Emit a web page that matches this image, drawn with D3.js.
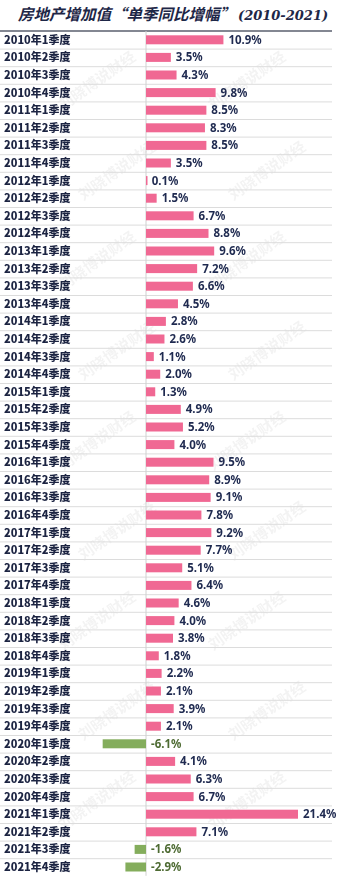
<!DOCTYPE html>
<html><head><meta charset="utf-8">
<script src="https://cdn.jsdelivr.net/npm/d3@7"></script>
<style>html,body{margin:0;padding:0;background:#fff;}svg{display:block;}</style>
</head><body>
<script>
const titleMain = "房地产增加值“单季同比增幅”";
const titleYears = "(2010-2021)";
const years = ["2010","2011","2012","2013","2014","2015","2016","2017","2018","2019","2020","2021"];
const quarters = ["1","2","3","4"];
const categories = years.flatMap(y => quarters.map(q => `${y}年${q}季度`));
const values = [
  10.9, 3.5, 4.3, 9.8,
  8.5, 8.3, 8.5, 3.5,
  0.1, 1.5, 6.7, 8.8,
  9.6, 7.2, 6.6, 4.5,
  2.8, 2.6, 1.1, 2.0,
  1.3, 4.9, 5.2, 4.0,
  9.5, 8.9, 9.1, 7.8,
  9.2, 7.7, 5.1, 6.4,
  4.6, 4.0, 3.8, 1.8,
  2.2, 2.1, 3.9, 2.1,
  -6.1, 4.1, 6.3, 6.7,
  21.4, 7.1, -1.6, -2.9
];
const data = categories.map((c, i) => ({c, v: values[i]}));

(function () {
const W = 345, H = 880;
const svg = d3.select("body").append("svg").attr("width", W).attr("height", H);

const tableTop = 31, rowH = 17.6, tableRight = 332;
const y = d3.scaleBand().domain(categories).range([tableTop, tableTop + rowH * categories.length]);
const x = d3.scaleLinear().domain([0, 21.4]).range([146, 298]);

// title
const tMain = svg.append("text").attr("x", 18).attr("y", 20)
  .attr("font-family", "'Noto Sans CJK SC',sans-serif")
  .attr("font-size", 15.5).attr("font-weight", "bold").attr("font-style", "italic")
  .attr("fill", "#1e2747")
  .text(titleMain);
const mainEnd = 18 + tMain.node().getComputedTextLength();
svg.append("text").attr("x", mainEnd + 3).attr("y", 20)
  .attr("font-family", "'DejaVu Serif',serif")
  .attr("font-size", 13).attr("font-weight", "bold").attr("font-style", "italic")
  .attr("fill", "#1e2747")
  .text(titleYears);

// watermark
const wm = svg.append("g").attr("fill", "#000").attr("opacity", 0.05)
  .attr("font-family", "'Noto Sans CJK SC',sans-serif").attr("font-size", 15).attr("font-weight", "bold");
for (let r = 0; r < 9; r++) {
  for (let k = 0; k < 2; k++) {
    const cx = 110 + k * 150 + (r % 2) * 20 - 10, cy = 85 + r * 90;
    if (cx + 40 > W) continue;
    wm.append("text").attr("transform", `translate(${cx},${cy}) rotate(-35)`).attr("text-anchor", "middle").text("刘晓博说财经");
  }
}

// row lines
svg.append("g").selectAll("line").data(categories.slice(1)).join("line")
  .attr("x1", 0).attr("x2", tableRight)
  .attr("y1", d => y(d) + 0.5).attr("y2", d => y(d) + 0.5)
  .attr("stroke", "#dcdcdc").attr("stroke-width", 1);
svg.append("line").attr("x1", 0).attr("x2", tableRight).attr("y1", tableTop).attr("y2", tableTop)
  .attr("stroke", "#5a5f6e").attr("stroke-width", 1.5);

// zero line
svg.append("line").attr("x1", x(0)).attr("x2", x(0)).attr("y1", tableTop).attr("y2", y.range()[1])
  .attr("stroke", "#d0d0d0").attr("stroke-width", 1);

// category labels
svg.append("g").selectAll("text").data(data).join("text")
  .attr("x", 4).attr("y", d => y(d.c) + y.bandwidth() / 2 + 4)
  .attr("font-family", "'Noto Sans CJK SC',sans-serif").attr("font-size", 11).attr("font-weight", 900)
  .attr("fill", "#1c2442").text(d => d.c);

// bars
const barH = 9;
svg.append("g").selectAll("rect").data(data).join("rect")
  .attr("x", d => Math.min(x(0), x(d.v)))
  .attr("width", d => Math.max(1.5, Math.abs(x(d.v) - x(0))))
  .attr("y", d => y(d.c) + (y.bandwidth() - barH) / 2)
  .attr("height", barH)
  .attr("fill", d => d.v < 0 ? "#84ad5c" : "#f06893");

// value labels
svg.append("g").selectAll("text").data(data).join("text")
  .attr("x", d => (d.v < 0 ? x(0) : x(d.v)) + 5)
  .attr("y", d => y(d.c) + y.bandwidth() / 2 + 4)
  .attr("font-family", "'Noto Sans','DejaVu Sans',sans-serif").attr("font-size", 11.5).attr("font-weight", "bold")
  .attr("fill", d => d.v < 0 ? "#4e6b33" : "#1f2a50")
  .text(d => d.v.toFixed(1) + "%");
})();
</script>
</body></html>
